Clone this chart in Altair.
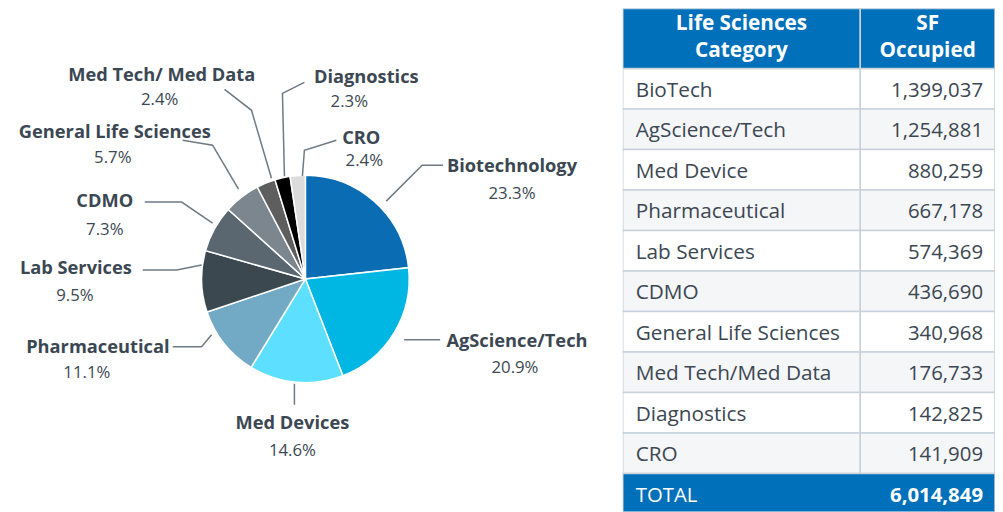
import altair as alt
import pandas as pd

# ---------------- data ----------------
table_categories = ["BioTech", "AgScience/Tech", "Med Device", "Pharmaceutical", "Lab Services",
                    "CDMO", "General Life Sciences", "Med Tech/Med Data", "Diagnostics", "CRO"]
sf_occupied = [1399037, 1254881, 880259, 667178, 574369, 436690, 340968, 176733, 142825, 141909]
total_label = "TOTAL"
total_sf = 6014849

pie_labels = ["Biotechnology", "AgScience/Tech", "Med Devices", "Pharmaceutical", "Lab Services",
              "CDMO", "General Life Sciences", "Med Tech/ Med Data", "Diagnostics", "CRO"]
pie_pct_labels = ["23.3%", "20.9%", "14.6%", "11.1%", "9.5%", "7.3%", "5.7%", "2.4%", "2.3%", "2.4%"]

header_lines = [["Life Sciences", "Category"], ["SF", "Occupied"]]

# ---------------- styles / layout ----------------
slice_colors = ["#0A6CB2", "#00B6E3", "#5DE0FF", "#72A9C4", "#3C4850",
                "#5A6670", "#7B868E", "#5E5E5E", "#000000", "#DCDCDC"]
FONT = "Open Sans"
TXT = "#3B4752"
LEAD = "#6E7A84"
BLUE = "#0070BA"
GRID = "#C9D1DB"
TEXT_DY = 2  # vertical nudge for middle-baselined text

# pie centre / radius (reference pixel frame)
PIE_CX, PIE_CY, PIE_R = 306, 279, 104

# label anchors (name, percent) in reference pixel frame
name_pos = [(513, 165), (518, 340), (293, 422), (98, 346), (76, 267),
            (105, 200), (115, 131), (162, 74), (367, 76), (362, 137)]
pct_pos = [(513, 192), (516, 366), (293, 449), (87, 371), (75, 294),
           (105, 228), (113, 156), (160, 98), (350, 100), (365, 159)]
# leader polylines
leaders = [
    [(387, 201), (423, 165), (444, 165)],
    [(405, 340), (441, 340)],
    [(295, 384), (295, 405)],
    [(212, 335), (202, 347), (173, 347)],
    [(202, 265), (177, 270), (143, 270)],
    [(213, 223), (182, 202), (145, 202)],
    [(239, 189), (213, 145), (183, 140)],
    [(272, 178), (252, 110), (225, 89)],
    [(285, 176), (283, 93), (305, 82)],
    [(303, 176), (305, 150), (337, 140)],
]

# ---------------- left: pie ----------------
xs = alt.Scale(domain=[8, 624], nice=False, zero=False)
ys = alt.Scale(domain=[8, 512], nice=False, zero=False, reverse=True)

pie_df = pd.DataFrame({
    "idx": list(range(len(pie_labels))),
    "label": pie_labels,
    "sf": sf_occupied,
    "cx": [PIE_CX] * len(pie_labels),
    "cy": [PIE_CY] * len(pie_labels),
})

arcs = alt.Chart(pie_df).mark_arc(stroke="white", strokeWidth=1.5).encode(
    theta=alt.Theta("sf:Q", stack=True),
    order=alt.Order("idx:Q"),
    color=alt.Color("label:N", scale=alt.Scale(domain=pie_labels, range=slice_colors), legend=None),
    x=alt.X("cx:Q", scale=xs, axis=None),
    y=alt.Y("cy:Q", scale=ys, axis=None),
    radius=alt.value(PIE_R),
)

lead_rows = []
for lab, pts in zip(pie_labels, leaders):
    for k, (px, py) in enumerate(pts):
        lead_rows.append({"label": lab, "k": k, "px": px, "py": py})
lead_df = pd.DataFrame(lead_rows)

lines = alt.Chart(lead_df).mark_line(color=LEAD, strokeWidth=1.5).encode(
    x=alt.X("px:Q", scale=xs, axis=None),
    y=alt.Y("py:Q", scale=ys, axis=None),
    detail="label:N",
    order="k:Q",
)

name_df = pd.DataFrame({"label": pie_labels,
                        "px": [p[0] for p in name_pos], "py": [p[1] for p in name_pos]})
pct_df = pd.DataFrame({"label": pie_pct_labels,
                       "px": [p[0] for p in pct_pos], "py": [p[1] for p in pct_pos]})

names = alt.Chart(name_df).mark_text(font=FONT, fontSize=18.3, fontWeight="bold", color=TXT,
                                     align="center", baseline="middle", dy=TEXT_DY).encode(
    x=alt.X("px:Q", scale=xs, axis=None), y=alt.Y("py:Q", scale=ys, axis=None), text="label:N")
pcts = alt.Chart(pct_df).mark_text(font=FONT, fontSize=16.8, color=TXT,
                                   align="center", baseline="middle", dy=TEXT_DY).encode(
    x=alt.X("px:Q", scale=xs, axis=None), y=alt.Y("py:Q", scale=ys, axis=None), text="label:N")

left = alt.layer(arcs, lines, names, pcts).properties(width=616, height=504)

# ---------------- right: table ----------------
TX0, TXM, TX1 = 624, 862, 997
HEAD_TOP, HEAD_BOT, ROW_H = 8, 68, 40.6
txs = alt.Scale(domain=[TX0, TX1], nice=False, zero=False)
tys = alt.Scale(domain=[8, 512], nice=False, zero=False, reverse=True)

cell_rows = []
for i, cat in enumerate(table_categories):
    y0 = HEAD_BOT + ROW_H * i
    fill = "#FFFFFF" if i % 2 == 0 else "#F5F6F8"
    cell_rows.append({"x0": TX0, "x1": TXM, "y0": y0, "y1": y0 + ROW_H, "fill": fill})
    cell_rows.append({"x0": TXM, "x1": TX1, "y0": y0, "y1": y0 + ROW_H, "fill": fill})
for xa, xb in [(TX0, TXM), (TXM, TX1)]:
    cell_rows.append({"x0": xa, "x1": xb, "y0": HEAD_TOP, "y1": HEAD_BOT, "fill": BLUE})
ytot = HEAD_BOT + ROW_H * len(table_categories)
cell_rows.append({"x0": TX0, "x1": TX1, "y0": ytot, "y1": ytot + ROW_H, "fill": BLUE})
cell_df = pd.DataFrame(cell_rows)

cells = alt.Chart(cell_df).mark_rect(stroke=GRID, strokeWidth=1.5, clip=True).encode(
    x=alt.X("x0:Q", scale=txs, axis=None), x2="x1:Q",
    y=alt.Y("y0:Q", scale=tys, axis=None), y2="y1:Q",
    fill=alt.Fill("fill:N", scale=None),
)

body_df = pd.DataFrame({
    "cat": table_categories,
    "sf": sf_occupied,
    "yc": [HEAD_BOT + ROW_H * (i + 0.5) for i in range(len(table_categories))],
    "xl": [TX0 + 13] * len(table_categories),
    "xr": [TX1 - 12] * len(table_categories),
})
cat_text = alt.Chart(body_df).mark_text(font=FONT, fontSize=20.8, color=TXT, align="left",
                                        baseline="middle", dy=TEXT_DY).encode(
    x=alt.X("xl:Q", scale=txs, axis=None), y=alt.Y("yc:Q", scale=tys, axis=None), text="cat:N")
val_text = alt.Chart(body_df).mark_text(font=FONT, fontSize=20.4, color=TXT, align="right",
                                        baseline="middle", dy=TEXT_DY).encode(
    x=alt.X("xr:Q", scale=txs, axis=None), y=alt.Y("yc:Q", scale=tys, axis=None),
    text=alt.Text("sf:Q", format=","))

head_rows = []
for (xa, xb), lines_ in zip([(TX0, TXM), (TXM, TX1)], header_lines):
    for j, t in enumerate(lines_):
        head_rows.append({"t": t, "xc": (xa + xb) / 2, "yc": 24 + 27 * j})
head_df = pd.DataFrame(head_rows)
head_text = alt.Chart(head_df).mark_text(font=FONT, fontSize=20.8, fontWeight="bold", color="white",
                                         align="center", baseline="middle").encode(
    x=alt.X("xc:Q", scale=txs, axis=None), y=alt.Y("yc:Q", scale=tys, axis=None), text="t:N")

tot_df = pd.DataFrame({"t": [total_label], "v": [total_sf], "xl": [TX0 + 13], "xr": [TX1 - 12],
                       "yc": [ytot + ROW_H / 2]})
tot_lab = alt.Chart(tot_df).mark_text(font=FONT, fontSize=20.4, color="white", align="left",
                                      baseline="middle", dy=TEXT_DY).encode(
    x=alt.X("xl:Q", scale=txs, axis=None), y=alt.Y("yc:Q", scale=tys, axis=None), text="t:N")
tot_val = alt.Chart(tot_df).mark_text(font=FONT, fontSize=20.4, fontWeight="bold", color="white",
                                      align="right", baseline="middle", dy=TEXT_DY).encode(
    x=alt.X("xr:Q", scale=txs, axis=None), y=alt.Y("yc:Q", scale=tys, axis=None),
    text=alt.Text("v:Q", format=","))

right = alt.layer(cells, cat_text, val_text, head_text, tot_lab, tot_val).properties(
    width=TX1 - TX0, height=504)

chart = alt.hconcat(left, right, spacing=0).properties(padding=0).configure_view(stroke=None)

chart.save("out.html", embed_options={"renderer": "svg", "actions": False})
